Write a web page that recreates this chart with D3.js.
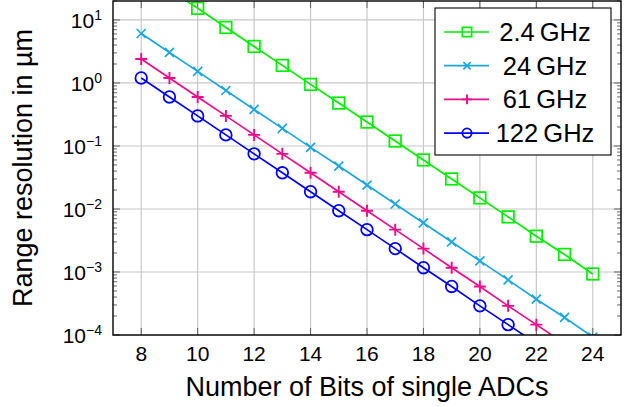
<!DOCTYPE html>
<html>
<head>
<meta charset="utf-8">
<script src="https://cdn.jsdelivr.net/npm/d3@7"></script>
<style>
  body { margin: 0; background: #fff; }
  text { font-family: "Liberation Sans", Arial, sans-serif; fill: #000; }
</style>
</head>
<body>
<div id="chart"></div>
<script>
// bits of the ADC (x) and range resolution in µm for each carrier frequency
const bits = [8, 9, 10, 11, 12, 13, 14, 15, 16, 17, 18, 19, 20, 21, 22, 23, 24];
const res_2g4 = [61, 30.5, 15.3, 7.6, 3.8, 1.9, 0.95, 0.48, 0.24, 0.12, 0.06, 0.03, 0.015, 0.0075, 0.0037, 0.0019, 0.00093];
const res_24g = [6.1, 3.05, 1.53, 0.76, 0.38, 0.19, 0.095, 0.048, 0.024, 0.012, 0.006, 0.003, 0.0015, 0.00075, 0.00037, 0.00019, 0.000093];
const res_61g = [2.4, 1.2, 0.6, 0.3, 0.15, 0.075, 0.0375, 0.0188, 0.0094, 0.0047, 0.00235, 0.00117, 0.00059, 0.00029, 0.000146, 0.000073, 0.000037];
const res_122g = [1.2, 0.6, 0.3, 0.15, 0.075, 0.0375, 0.0188, 0.0094, 0.0047, 0.00235, 0.00117, 0.00059, 0.00029, 0.000146, 0.000073, 0.000037, 0.000018];
const seriesNames = ["2.4\u2009GHz", "24\u2009GHz", "61\u2009GHz", "122\u2009GHz"];
const xTicks = [8, 10, 12, 14, 16, 18, 20, 22, 24];
const yExps = [-4, -3, -2, -1, 0, 1];

const series = [
  { name: seriesNames[0], values: res_2g4, color: "#00ee00", mark: "square" },
  { name: seriesNames[1], values: res_24g, color: "#1aa7e0", mark: "x" },
  { name: seriesNames[2], values: res_61g, color: "#ec0c8c", mark: "plus" },
  { name: seriesNames[3], values: res_122g, color: "#0000ff", mark: "circle" },
];

const W = 637, H = 407;
const margin = { top: 1, right: 16, bottom: 72, left: 113 };
const width = W - margin.left - margin.right;
const height = H - margin.top - margin.bottom;

const svg = d3.select("#chart").append("svg")
  .attr("width", W).attr("height", H);

const g = svg.append("g")
  .attr("transform", "translate(" + margin.left + "," + margin.top + ")");

const x = d3.scaleLinear().domain([7, 25]).range([0, width]);
const y = d3.scaleLog().domain([1e-4, 20]).range([height, 0]);

// grid
g.append("g").selectAll("line").data(xTicks).join("line")
  .attr("x1", d => x(d)).attr("x2", d => x(d))
  .attr("y1", 0).attr("y2", height)
  .attr("stroke", "#c8c8c8").attr("stroke-width", 1.2);
g.append("g").selectAll("line").data(yExps).join("line")
  .attr("x1", 0).attr("x2", width)
  .attr("y1", d => y(Math.pow(10, d))).attr("y2", d => y(Math.pow(10, d)))
  .attr("stroke", "#c8c8c8").attr("stroke-width", 1.2);

// ticks (inside, both sides)
const minor = [];
for (let e = -4; e <= 1; e++) {
  for (let m = 2; m <= 9; m++) {
    const v = m * Math.pow(10, e);
    if (v <= 20) minor.push(v);
  }
}
const tickG = g.append("g").attr("stroke", "#444").attr("stroke-width", 0.8);
[0, width].forEach(x0 => {
  const dir = x0 === 0 ? 1 : -1;
  tickG.append("g").selectAll("line").data(minor).join("line")
    .attr("x1", x0).attr("x2", x0 + dir * 4)
    .attr("y1", d => y(d)).attr("y2", d => y(d));
  tickG.append("g").selectAll("line").data(yExps).join("line")
    .attr("x1", x0).attr("x2", x0 + dir * 7)
    .attr("y1", d => y(Math.pow(10, d))).attr("y2", d => y(Math.pow(10, d)));
});
[0, height].forEach(y0 => {
  const dir = y0 === 0 ? 1 : -1;
  tickG.append("g").selectAll("line").data(xTicks).join("line")
    .attr("x1", d => x(d)).attr("x2", d => x(d))
    .attr("y1", y0).attr("y2", y0 + dir * 7);
});

// clip
svg.append("defs").append("clipPath").attr("id", "clip")
  .append("rect").attr("width", width).attr("height", height);

const plot = g.append("g").attr("clip-path", "url(#clip)");

const line = d3.line()
  .x((d, i) => x(bits[i]))
  .y(d => y(d));

function drawMark(sel, mark, color, k) {
  if (mark === "square") {
    sel.append("rect").attr("x", -5.8 * k).attr("y", -5.8 * k)
      .attr("width", 11.6 * k).attr("height", 11.6 * k)
      .attr("fill", "none").attr("stroke", color).attr("stroke-width", 1.7);
  } else if (mark === "circle") {
    sel.append("circle").attr("r", 5.8 * k)
      .attr("fill", "none").attr("stroke", color).attr("stroke-width", 1.8);
  } else if (mark === "x") {
    sel.append("path")
      .attr("d", `M${-4.5 * k},${-4.5 * k}L${4.5 * k},${4.5 * k}M${-4.5 * k},${4.5 * k}L${4.5 * k},${-4.5 * k}`)
      .attr("stroke", color).attr("stroke-width", 1.7);
  } else {
    sel.append("path")
      .attr("d", `M${-6 * k},0L${6 * k},0M0,${-6 * k}L0,${6 * k}`)
      .attr("stroke", color).attr("stroke-width", 1.9);
  }
}

series.forEach(s => {
  plot.append("path").datum(s.values)
    .attr("fill", "none").attr("stroke", s.color).attr("stroke-width", 1.7)
    .attr("d", line);
  plot.append("g").selectAll("g").data(s.values).join("g")
    .attr("transform", (d, i) => "translate(" + x(bits[i]) + "," + y(d) + ")")
    .each(function () { drawMark(d3.select(this), s.mark, s.color, 1); });
});

// frame
g.append("rect").attr("width", width).attr("height", height)
  .attr("fill", "none").attr("stroke", "#000").attr("stroke-width", 1.4);

// tick labels
g.append("g").selectAll("text").data(xTicks).join("text")
  .attr("x", d => x(d)).attr("y", height + 26)
  .attr("text-anchor", "middle").attr("font-size", 21)
  .text(d => d);

const yl = g.append("g").selectAll("text").data(yExps).join("text")
  .attr("x", -11).attr("y", d => y(Math.pow(10, d)) + 8)
  .attr("text-anchor", "end").attr("font-size", 21);
yl.append("tspan").text("10");
yl.append("tspan").attr("dy", -8).attr("font-size", 14)
  .text(d => d < 0 ? "\u2212" + (-d) : d);

// axis labels
svg.append("text")
  .attr("x", margin.left + width / 2).attr("y", 396)
  .attr("text-anchor", "middle").attr("font-size", 27)
  .text("Number of Bits of single ADCs");
svg.append("text")
  .attr("transform", "translate(32," + (margin.top + height / 2) + ") rotate(-90)")
  .attr("text-anchor", "middle").attr("font-size", 27)
  .text("Range resolution in \u00b5m");

// legend
const lg = svg.append("g").attr("transform", "translate(435,8)");
lg.append("rect").attr("width", 176).attr("height", 147)
  .attr("fill", "#fff").attr("stroke", "#000").attr("stroke-width", 1.1);
series.forEach((s, i) => {
  const row = lg.append("g").attr("transform", "translate(0," + (24 + i * 33.7) + ")");
  row.append("line").attr("x1", 9).attr("x2", 54)
    .attr("stroke", s.color).attr("stroke-width", 1.7);
  const m = row.append("g").attr("transform", "translate(32,0)");
  drawMark(m, s.mark, s.color, 0.8);
  row.append("text").attr("x", 110).attr("y", 9)
    .attr("text-anchor", "middle").attr("font-size", 25.5)
    .text(s.name);
});
</script>
</body>
</html>
